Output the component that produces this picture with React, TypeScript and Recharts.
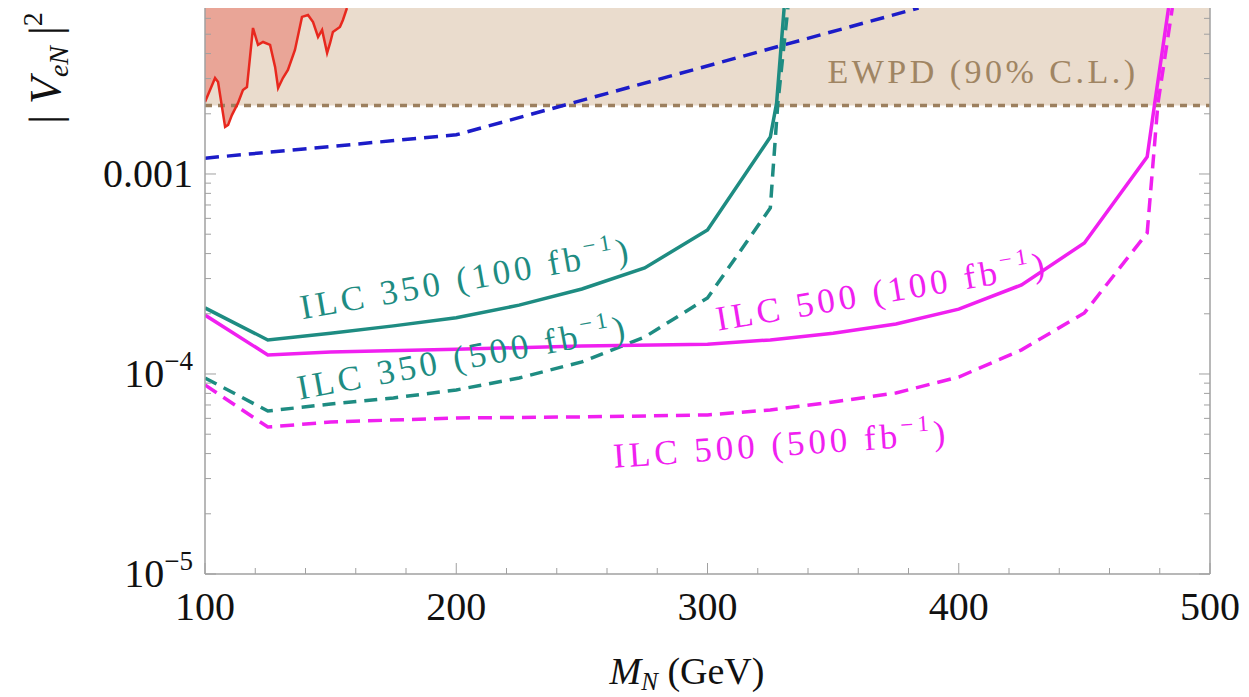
import { ComposedChart, Line, Area, XAxis, YAxis, ReferenceArea, ReferenceLine } from 'recharts'

// Sensitivity to |V_eN|^2 vs heavy neutrino mass
const TOP = 0.00676
const BOTTOM = 1e-5
const EWPD_LIMIT = 0.0022

const xTicks = [100, 120, 140, 160, 180, 200, 220, 240, 260, 280, 300, 320, 340, 360, 380, 400, 420, 440, 460, 480, 500]
const yTicks = [
    1e-5, 2e-5, 3e-5, 4e-5, 5e-5, 6e-5, 7e-5, 8e-5, 9e-5,
    1e-4, 2e-4, 3e-4, 4e-4, 5e-4, 6e-4, 7e-4, 8e-4, 9e-4,
    1e-3, 2e-3, 3e-3, 4e-3, 5e-3, 6e-3,
]

// ILC 350, 100 fb^-1 (solid teal)
const ilc350_100_m = [100, 125, 150, 175, 200, 225, 250, 275, 300, 325, 327.5, 330.5]
const ilc350_100_v = [2.14e-4, 1.48e-4, 1.6e-4, 1.74e-4, 1.91e-4, 2.21e-4, 2.66e-4, 3.39e-4, 5.25e-4, 1.53e-3, 2.26e-3, 6.76e-3]

// ILC 350, 500 fb^-1 (dashed teal)
const ilc350_500_m = [100, 125, 150, 175, 200, 225, 250, 275, 300, 325, 328, 332]
const ilc350_500_v = [9.55e-5, 6.53e-5, 7.08e-5, 7.59e-5, 8.32e-5, 9.55e-5, 1.15e-4, 1.53e-4, 2.4e-4, 6.76e-4, 2.26e-3, 6.76e-3]

// ILC 500, 100 fb^-1 (solid magenta)
const ilc500_100_m = [100, 125, 150, 200, 250, 300, 325, 350, 375, 400, 425, 450, 475, 478, 483.5]
const ilc500_100_v = [1.97e-4, 1.245e-4, 1.29e-4, 1.33e-4, 1.38e-4, 1.41e-4, 1.48e-4, 1.6e-4, 1.78e-4, 2.11e-4, 2.79e-4, 4.52e-4, 1.22e-3, 2.26e-3, 6.76e-3]

// ILC 500, 500 fb^-1 (dashed magenta)
const ilc500_500_m = [100, 125, 150, 200, 250, 300, 325, 350, 375, 400, 425, 450, 475, 479.3, 485]
const ilc500_500_v = [8.81e-5, 5.43e-5, 5.75e-5, 6.03e-5, 6.1e-5, 6.24e-5, 6.61e-5, 7.24e-5, 8.04e-5, 9.66e-5, 1.32e-4, 2.02e-4, 5.07e-4, 2.26e-3, 6.76e-3]

// blue dashed bound
const blue_m = [100, 200, 384]
const blue_v = [1.2e-3, 1.57e-3, 6.76e-3]

// red excluded region (lower edge)
const red_m = [100, 104, 105.2, 108, 109.2, 110.7, 113.1, 115.1, 116.7, 119.1, 121.1, 123.1, 125.9, 127.9, 129.1, 131, 133, 135.8, 138.6, 141, 143, 145, 146.6, 148.6, 149.8, 150.9, 153.7, 154.9, 156.5]
const red_v = [2.29e-3, 3.02e-3, 2.88e-3, 1.72e-3, 1.76e-3, 1.97e-3, 2.26e-3, 2.63e-3, 2.72e-3, 5.37e-3, 4.42e-3, 4.57e-3, 4.42e-3, 3.43e-3, 2.69e-3, 3.02e-3, 3.31e-3, 4.17e-3, 6.1e-3, 6.24e-3, 5.75e-3, 4.84e-3, 5.25e-3, 4.03e-3, 4.52e-3, 5.13e-3, 5.43e-3, 5.89e-3, 6.76e-3]

const zip = (ms: number[], vs: number[]) => ms.map((m, i) => ({ m, v: vs[i] }))

const ilc350_100 = zip(ilc350_100_m, ilc350_100_v)
const ilc350_500 = zip(ilc350_500_m, ilc350_500_v)
const ilc500_100 = zip(ilc500_100_m, ilc500_100_v)
const ilc500_500 = zip(ilc500_500_m, ilc500_500_v)
const blue = zip(blue_m, blue_v)
const red = zip(red_m, red_v)
const redBand = red.map(d => ({ m: d.m, r: [d.v, TOP] }))

const FONT = "'Liberation Serif', 'DejaVu Serif', serif"
const TEAL = '#1e8c82'
const MAGENTA = '#f020f0'
const AXIS = '#a0a0a0'

function XTick(props: any) {
    const { x, y, payload } = props
    const major = payload.value % 100 === 0
    return (
        <g>
            <line x1={x} x2={x} y1={y} y2={y - (major ? 11 : 6)} stroke={AXIS} strokeWidth={1} />
            {major && (
                <text x={x} y={y + 46} textAnchor="middle" fontFamily={FONT} fontSize={40} fill="#111">
                    {payload.value}
                </text>
            )}
        </g>
    )
}

function isDecade(v: number) {
    const l = Math.log10(v)
    return Math.abs(l - Math.round(l)) < 1e-6
}

function YTick(props: any) {
    const { x, y, payload } = props
    const v = payload.value
    const major = isDecade(v)
    const exp = Math.round(Math.log10(v))
    return (
        <g>
            <line x1={x} x2={x + (major ? 11 : 6)} y1={y} y2={y} stroke={AXIS} strokeWidth={1} />
            {major && exp === -3 && (
                <text x={x - 12} y={y + 13} textAnchor="end" fontFamily={FONT} fontSize={40} fill="#111">0.001</text>
            )}
            {major && exp !== -3 && (
                <text x={x - 12} y={y + 13} textAnchor="end" fontFamily={FONT} fontSize={40} fill="#111">
                    10<tspan fontSize={27} dy={-17}>{'\u2212' + String(-exp)}</tspan>
                </text>
            )}
        </g>
    )
}

function YTickRight(props: any) {
    const { x, y, payload } = props
    const major = isDecade(payload.value)
    return <line x1={x} x2={x - (major ? 11 : 6)} y1={y} y2={y} stroke={AXIS} strokeWidth={1} />
}

function CurveLabel({ cx, cy, angle, color, text }: any) {
    return (
        <text
            x={cx}
            y={cy}
            textAnchor="middle"
            fontFamily={FONT}
            fontSize={35}
            letterSpacing={4}
            fill={color}
            transform={`rotate(${angle} ${cx} ${cy})`}
        >
            {text}
            <tspan fontSize={23} dy={-15}>{'\u22121'}</tspan>
            <tspan dy={15}>)</tspan>
        </text>
    )
}

export default function App() {
    return (
        <div style={{ position: 'absolute', left: 0, top: 0, width: 1249, height: 697, background: '#fff' }}>
            <ComposedChart width={1249} height={697} margin={{ top: 8, right: 0, bottom: 0, left: 0 }}>
                <XAxis
                    dataKey="m"
                    type="number"
                    domain={[100, 500]}
                    ticks={xTicks}
                    interval={0}
                    tickSize={0}
                    tickMargin={0}
                    tick={<XTick />}
                    axisLine={{ stroke: AXIS, strokeWidth: 1.5 }}
                    height={123}
                    allowDataOverflow
                />
                <YAxis
                    yAxisId="l"
                    type="number"
                    scale="log"
                    domain={[BOTTOM, TOP]}
                    ticks={yTicks}
                    interval={0}
                    tickSize={0}
                    tickMargin={0}
                    tick={<YTick />}
                    axisLine={{ stroke: AXIS, strokeWidth: 1.5 }}
                    width={205}
                    allowDataOverflow
                />
                <YAxis
                    yAxisId="r"
                    orientation="right"
                    type="number"
                    scale="log"
                    domain={[BOTTOM, TOP]}
                    ticks={yTicks}
                    interval={0}
                    tickSize={0}
                    tickMargin={0}
                    tick={<YTickRight />}
                    axisLine={{ stroke: AXIS, strokeWidth: 1.5 }}
                    width={39}
                    allowDataOverflow
                />

                {/* EWPD excluded band */}
                <ReferenceArea yAxisId="l" x1={100} x2={500} y1={EWPD_LIMIT} y2={TOP} fill="#eadccd" fillOpacity={1} stroke="none" />
                <ReferenceLine yAxisId="l" y={EWPD_LIMIT} stroke="#9c7f5e" strokeWidth={3.5} strokeDasharray="7 6" />

                {/* red excluded region */}
                <Area yAxisId="l" data={redBand} dataKey="r" type="linear" stroke="none" fill="#e9a597" fillOpacity={1} isAnimationActive={false} />
                <Line yAxisId="l" data={red} dataKey="v" type="linear" stroke="#e8281e" strokeWidth={2.5} dot={false} isAnimationActive={false} />

                <Line yAxisId="l" data={blue} dataKey="v" type="linear" stroke="#1c1cc8" strokeWidth={3.5} strokeDasharray="14 8" dot={false} isAnimationActive={false} />

                <Line yAxisId="l" data={ilc350_100} dataKey="v" type="linear" stroke={TEAL} strokeWidth={3.5} dot={false} isAnimationActive={false} />
                <Line yAxisId="l" data={ilc350_500} dataKey="v" type="linear" stroke={TEAL} strokeWidth={3.5} strokeDasharray="13 8" dot={false} isAnimationActive={false} />
                <Line yAxisId="l" data={ilc500_100} dataKey="v" type="linear" stroke={MAGENTA} strokeWidth={3.5} dot={false} isAnimationActive={false} />
                <Line yAxisId="l" data={ilc500_500} dataKey="v" type="linear" stroke={MAGENTA} strokeWidth={3.5} strokeDasharray="14 8" dot={false} isAnimationActive={false} />
            </ComposedChart>

            {/* text annotations */}
            <svg width={1249} height={697} style={{ position: 'absolute', left: 0, top: 0, pointerEvents: 'none' }}>
                <text x={983} y={83} textAnchor="middle" fontFamily={FONT} fontSize={34} letterSpacing={3.5} fill="#a08563">EWPD (90% C.L.)</text>

                <CurveLabel cx={468} cy={290} angle={-10} color={TEAL} text="ILC 350 (100 fb" />
                <CurveLabel cx={465} cy={369} angle={-10.5} color={TEAL} text="ILC 350 (500 fb" />
                <CurveLabel cx={884} cy={303} angle={-9.5} color={MAGENTA} text="ILC 500 (100 fb" />
                <CurveLabel cx={782} cy={456} angle={-4} color={MAGENTA} text="ILC 500 (500 fb" />

                {/* x axis title */}
                <text x={687} y={684} textAnchor="middle" fontFamily={FONT} fontSize={38} fill="#111">
                    <tspan fontStyle="italic">M</tspan>
                    <tspan fontSize={25} fontStyle="italic" dy={6}>N</tspan>
                    <tspan dy={-6}>{'  (GeV)'}</tspan>
                </text>

                {/* y axis title */}
                <text x={0} y={0} textAnchor="middle" fontFamily={FONT} fontSize={44} fill="#111" transform="translate(60 68) rotate(-90)">
                    {'| '}
                    <tspan fontStyle="italic">V</tspan>
                    <tspan fontSize={28} fontStyle="italic" dy={8}>eN</tspan>
                    <tspan dy={-8}>{' |'}</tspan>
                    <tspan fontSize={28} dy={-18}>2</tspan>
                </text>
            </svg>
        </div>
    )
}
